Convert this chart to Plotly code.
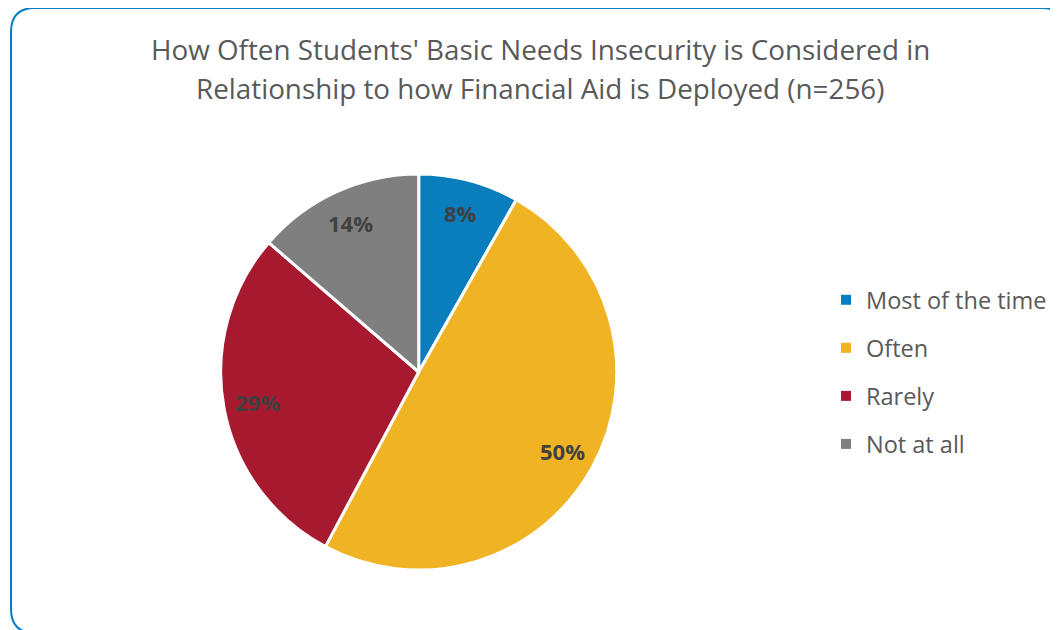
import math
import plotly.graph_objects as go

# ---- data ----
categories = ["Most of the time", "Often", "Rarely", "Not at all"]
counts = [21, 127, 73, 35]          # n = 256
colors = ["#0A7DBD", "#F0B323", "#A6192E", "#7F7F7F"]
title_lines = [
    "How Often Students' Basic Needs Insecurity is Considered in",
    "Relationship to how Financial Aid is Deployed (n=256)",
]

# ---- layout constants ----
W, H = 1058, 630
OFF = 8  # page body margin
def fx(xp):  # page px -> paper x
    return (xp - OFF) / W
def fy(yp):  # page px -> paper y
    return 1 - (yp - OFF) / H

pcx, pcy, pR = 418.7, 372.0, 198.0
dom_x = [fx(pcx - pR), fx(pcx + pR)]
dom_y = [fy(pcy + pR), fy(pcy - pR)]
label_r = 0.83

fig = go.Figure()

fig.add_trace(go.Pie(
    labels=categories,
    values=counts,
    sort=False,
    direction="clockwise",
    rotation=0,
    marker=dict(colors=colors, line=dict(color="white", width=3)),
    textinfo="none",
    hoverinfo="label+percent",
    showlegend=False,
    domain=dict(x=dom_x, y=dom_y),
))

# legend entries (one group per category so spacing can be controlled)
for cat, col in zip(categories, colors):
    fig.add_trace(go.Scatter(
        x=[None], y=[None], mode="markers", name=cat,
        legendgroup=cat, showlegend=True,
        marker=dict(symbol="square", size=10, color=col),
        hoverinfo="skip",
    ))

# percent labels placed along each slice's mid-angle
total = sum(counts)
cx = (dom_x[0] + dom_x[1]) / 2
cy = (dom_y[0] + dom_y[1]) / 2
R = min((dom_x[1] - dom_x[0]) * W, (dom_y[1] - dom_y[0]) * H) / 2
cum = 0
annotations = []
for v in counts:
    mid = (cum + v / 2) / total * 2 * math.pi
    cum += v
    annotations.append(dict(
        x=cx + label_r * R * math.sin(mid) / W,
        y=cy + label_r * R * math.cos(mid) / H,
        xref="paper", yref="paper", showarrow=False,
        xanchor="center", yanchor="middle",
        text=f"<b>{round(v / total * 100)}%</b>",
        font=dict(family="Open Sans", size=22, color="#404040"),
    ))

# title as two lines
for i, line in enumerate(title_lines):
    annotations.append(dict(
        x=fx(540), y=fy(49 + 38.5 * i), xref="paper", yref="paper",
        xanchor="center", yanchor="middle", showarrow=False, text=line,
        font=dict(family="Open Sans", size=27.8, color="#595959"),
    ))

# rounded frame
Lp, Tp, Rp, Bp, rr = 11, 8, 1066, 633, 24
def px(x, y):
    return f"{fx(x):.5f},{fy(y):.5f}"
path = (f"M{px(Lp, Tp + rr)} L{px(Lp, Bp - rr)} Q{px(Lp, Bp)} {px(Lp + rr, Bp)} "
        f"L{px(Rp - rr, Bp)} Q{px(Rp, Bp)} {px(Rp, Bp - rr)} L{px(Rp, Tp + rr)} "
        f"Q{px(Rp, Tp)} {px(Rp - rr, Tp)} L{px(Lp + rr, Tp)} Q{px(Lp, Tp)} {px(Lp, Tp + rr)} Z")

fig.update_layout(
    width=W, height=H,
    margin=dict(l=0, r=0, t=0, b=0),
    paper_bgcolor="white", plot_bgcolor="white",
    xaxis=dict(visible=False), yaxis=dict(visible=False),
    annotations=annotations,
    shapes=[dict(type="path", path=path, xref="paper", yref="paper",
                 line=dict(color="#0A7DC2", width=2), layer="above")],
    legend=dict(
        x=fx(826), xanchor="left", y=fy(372), yanchor="middle",
        traceorder="grouped", tracegroupgap=14.5,
        font=dict(family="Open Sans", size=23.5, color="#595959"),
        bgcolor="rgba(0,0,0,0)",
    ),
    showlegend=True,
)

fig.write_html("out.html")
